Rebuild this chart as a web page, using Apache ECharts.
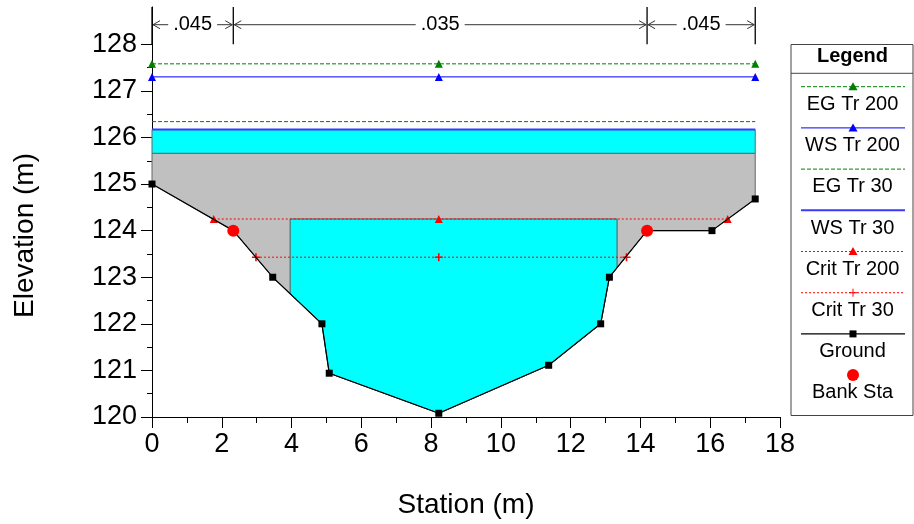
<!DOCTYPE html>
<html><head><meta charset="utf-8">
<script src="https://cdn.jsdelivr.net/npm/echarts@6/dist/echarts.min.js"></script>
<style>html,body{margin:0;padding:0;background:#fff}#c{width:914px;height:524px}</style>
</head><body><div id="c"></div>
<script>
// ---- data ----
const groundSta  = [0, 2.33, 3.46, 4.87, 5.08, 8.22, 11.37, 12.86, 13.11, 14.19, 16.05, 17.29];
const groundElev = [125.0, 124.0, 123.0, 122.0, 120.94, 120.08, 121.11, 122.0, 123.0, 124.0, 124.0, 124.68];
const bankSta  = [2.33, 14.19];
const bankElev = [124.0, 124.0];
const egTr200Sta  = [0, 8.22, 17.29];
const egTr200Elev = [127.58, 127.58, 127.58];
const wsTr200Sta  = [0, 8.22, 17.29];
const wsTr200Elev = [127.30, 127.30, 127.30];
const egTr30Sta  = [0, 17.29];
const egTr30Elev = [126.34, 126.34];
const wsTr30Sta  = [0, 17.29];
const wsTr30Elev = [126.17, 126.17];
const critTr200Sta  = [1.77, 8.22, 16.50];
const critTr200Elev = [124.25, 124.25, 124.25];
const critTr30Sta  = [2.98, 8.22, 13.60];
const critTr30Elev = [123.43, 123.43, 123.43];
const deckLowElev = [125.66];          // top of grey blocked area
const openingSta  = [3.96, 13.33];     // culvert opening sides
const openingTopElev = [124.25];
const nValueSta = [0, 2.33, 14.19, 17.29];
const nValues   = ['.045', '.035', '.045'];
const xTickLabels = [0, 2, 4, 6, 8, 10, 12, 14, 16, 18];
const yMajorTicks = [120, 121, 122, 123, 124, 125, 126, 127, 128];
const yMinorTicks = [120.5, 121.5, 122.5, 123.5, 124.5, 125.5, 126.5, 127.5];

const FONT = 'Liberation Sans, Arial, Helvetica, sans-serif';
const zip = (a, b) => a.map((v, i) => [v, b[i]]);
function groundAt(s) {
  for (let i = 0; i < groundSta.length - 1; i++) {
    const s0 = groundSta[i], s1 = groundSta[i + 1];
    if (s >= s0 && s <= s1) return groundElev[i] + (groundElev[i + 1] - groundElev[i]) * (s - s0) / (s1 - s0);
  }
  return groundElev[groundElev.length - 1];
}
const gPts = zip(groundSta, groundElev);
const xEnd = groundSta[groundSta.length - 1];
const grayPoly = [[0, deckLowElev[0]], [xEnd, deckLowElev[0]]].concat(gPts.slice().reverse());
const bandPoly = [[0, wsTr30Elev[0]], [xEnd, wsTr30Elev[0]], [xEnd, deckLowElev[0]], [0, deckLowElev[0]]];
const oL = openingSta[0], oR = openingSta[1];
const openPoly = [[oL, openingTopElev[0]], [oR, openingTopElev[0]], [oR, groundAt(oR)]]
  .concat(gPts.filter(p => p[0] > oL && p[0] < oR).reverse())
  .concat([[oL, groundAt(oL)]]);

const defs = [
  {name: 'EG Tr 200', sta: egTr200Sta, elev: egTr200Elev, color: '#008000', type: [4, 2], width: 1, symbol: 'triangle'},
  {name: 'WS Tr 200', sta: wsTr200Sta, elev: wsTr200Elev, color: '#0000ff', type: 'solid', width: 1, symbol: 'triangle'},
  {name: 'EG Tr 30', sta: egTr30Sta, elev: egTr30Elev, color: '#008000', type: [4, 2], width: 1, symbol: 'none'},
  {name: 'WS Tr 30', sta: wsTr30Sta, elev: wsTr30Elev, color: '#3a3aff', type: 'solid', width: 2, symbol: 'none'},
  {name: 'Crit Tr 200', sta: critTr200Sta, elev: critTr200Elev, color: '#ff0000', type: [2, 2], width: 1, symbol: 'triangle'},
  {name: 'Crit Tr 30', sta: critTr30Sta, elev: critTr30Elev, color: '#ff0000', type: [2, 2], width: 1, symbol: 'plus'},
  {name: 'Ground', sta: groundSta, elev: groundElev, color: '#000000', type: 'solid', width: 1.2, symbol: 'square'},
  {name: 'Bank Sta', sta: bankSta, elev: bankElev, color: '#ff0000', type: 'none', width: 0, symbol: 'circle'}
];
const PLUS = 'path://M4,0h2v4h4v2h-4v4h-2v-4h-4v-2h4z';
function symOf(s) { return s === 'square' ? 'rect' : s === 'plus' ? PLUS : s; }
function symSize(s) { return s === 'circle' ? 12 : s === 'square' ? 7 : s === 'plus' ? 8 : 8; }

const series = [];
series.push({
  type: 'custom', silent: true, z: 1, data: [0],
  renderItem: (params, api) => {
    const c = p => api.coord(p);
    return {type: 'group', children: [
      {type: 'polygon', shape: {points: grayPoly.map(c)}, style: {fill: '#c0c0c0', stroke: '#666666', lineWidth: 1}},
      {type: 'polygon', shape: {points: bandPoly.map(c)}, style: {fill: '#00ffff', stroke: '#666666', lineWidth: 1}},
      {type: 'polygon', shape: {points: openPoly.map(c)}, style: {fill: '#00ffff', stroke: '#555555', lineWidth: 1}}
    ]};
  }
});
// n-value annotation
series.push({
  type: 'custom', silent: true, z: 5, clip: false, data: [0],
  renderItem: (params, api) => {
    const ch = [];
    const yA = api.coord([0, 128.42])[1];
    const yTop = api.coord([0, 128.8])[1];
    const yBot = api.coord([0, 128.0])[1];
    nValueSta.forEach(s => {
      const x = api.coord([s, 128])[0];
      ch.push({type: 'line', shape: {x1: x, y1: yTop, x2: x, y2: yBot}, style: {stroke: '#000', lineWidth: 1.3}});
    });
    for (let i = 0; i < nValues.length; i++) {
      const x1 = api.coord([nValueSta[i], 128])[0] + 1, x2 = api.coord([nValueSta[i + 1], 128])[0] - 1;
      ch.push({type: 'line', shape: {x1: x1, y1: yA, x2: x2, y2: yA}, style: {stroke: '#333', lineWidth: 1}});
      ch.push({type: 'polyline', shape: {points: [[x1 + 7, yA - 4], [x1, yA], [x1 + 7, yA + 4]]}, style: {stroke: '#333', lineWidth: 1, fill: null}});
      ch.push({type: 'polyline', shape: {points: [[x2 - 7, yA - 4], [x2, yA], [x2 - 7, yA + 4]]}, style: {stroke: '#333', lineWidth: 1, fill: null}});
      ch.push({type: 'text', x: (x1 + x2) / 2, y: yA, style: {text: nValues[i], fontSize: 20, fontFamily: FONT, fill: '#000',
        align: 'center', verticalAlign: 'middle', backgroundColor: '#fff', padding: [0, 5]}});
    }
    return {type: 'group', children: ch};
  }
});
defs.forEach((d, i) => {
  series.push({
    type: 'line', name: d.name, data: zip(d.sta, d.elev), z: 10 + i,
    symbol: symOf(d.symbol), symbolSize: symSize(d.symbol), showSymbol: d.symbol !== 'none',
    lineStyle: d.type === 'none' ? {width: 0, opacity: 0} : {color: d.color, type: d.type, width: d.width},
    itemStyle: {color: d.color, borderWidth: 0},
    animation: false, silent: true, clip: false
  });
});

// legend graphics
const LX = 791, LW = 122, LT = 44.5, LB = 415.5, LC = 852.5;
const g = [
  {type: 'rect', shape: {x: LX, y: LT, width: LW, height: LB - LT}, style: {fill: '#fff', stroke: '#444', lineWidth: 1}, z: 50},
  {type: 'line', shape: {x1: LX, y1: 73.3, x2: LX + LW, y2: 73.3}, style: {stroke: '#444', lineWidth: 1}, z: 51},
  {type: 'text', x: LC, y: 56.7, style: {text: 'Legend', fontSize: 20, fontWeight: 'bold', fontFamily: FONT, fill: '#000', align: 'center', verticalAlign: 'middle'}, z: 51},
  {type: 'text', x: 25, y: 235.5, rotation: Math.PI / 2, style: {text: 'Elevation (m)', fontSize: 28, fontFamily: FONT, fill: '#000', align: 'center', verticalAlign: 'middle'}},
  {type: 'text', x: 466, y: 505, style: {text: 'Station (m)', fontSize: 28, fontFamily: FONT, fill: '#000', align: 'center', verticalAlign: 'middle'}}
];
defs.forEach((d, i) => {
  const ly = 86.7 + i * 41.2, ty = ly + 17.8;
  if (d.type !== 'none') {
    g.push({type: 'line', shape: {x1: 801, y1: ly, x2: 905, y2: ly},
      style: {stroke: d.color, lineWidth: d.width, lineDash: Array.isArray(d.type) ? d.type : null}, z: 51});
  }
  const c = {x: 853, y: ly};
  if (d.symbol === 'triangle') g.push({type: 'polygon', shape: {points: [[c.x, c.y - 4.5], [c.x + 4.5, c.y + 3.5], [c.x - 4.5, c.y + 3.5]]}, style: {fill: d.color}, z: 52});
  if (d.symbol === 'square') g.push({type: 'rect', shape: {x: c.x - 3.5, y: c.y - 3.5, width: 7, height: 7}, style: {fill: d.color}, z: 52});
  if (d.symbol === 'plus') {
    g.push({type: 'line', shape: {x1: c.x - 4, y1: c.y, x2: c.x + 4, y2: c.y}, style: {stroke: d.color, lineWidth: 1}, z: 52});
    g.push({type: 'line', shape: {x1: c.x, y1: c.y - 4, x2: c.x, y2: c.y + 4}, style: {stroke: d.color, lineWidth: 1}, z: 52});
  }
  if (d.symbol === 'circle') g.push({type: 'circle', shape: {cx: c.x, cy: c.y, r: 6}, style: {fill: d.color}, z: 52});
  g.push({type: 'text', x: LC, y: ty, style: {text: d.name, fontSize: 20, fontFamily: FONT, fill: '#000', align: 'center', verticalAlign: 'middle'}, z: 52});
});

const chart = echarts.init(document.getElementById('c'), null, {renderer: 'canvas'});
chart.setOption({
  animation: false,
  backgroundColor: '#fff',
  textStyle: {fontFamily: FONT},
  grid: {left: 152, right: 134, top: 7, bottom: 107, containLabel: false},
  xAxis: {
    type: 'value', min: 0, max: 18, interval: 2,
    axisLine: {show: true, onZero: false, lineStyle: {color: '#000', width: 1}},
    axisTick: {show: true, length: 11, lineStyle: {color: '#000'}},
    minorTick: {show: true, splitNumber: 2, length: 6, lineStyle: {color: '#000'}},
    axisLabel: {fontSize: 27, color: '#000', margin: 14, fontFamily: FONT, customValues: xTickLabels},
    splitLine: {show: false}
  },
  yAxis: [{
    type: 'value', min: 120, max: 128.8, position: 'left',
    axisLine: {show: true, onZero: false, lineStyle: {color: '#000', width: 1}},
    axisTick: {show: true, length: 11, lineStyle: {color: '#000'}, customValues: yMajorTicks},
    axisLabel: {fontSize: 27, color: '#000', margin: 15, fontFamily: FONT, customValues: yMajorTicks},
    splitLine: {show: false}
  }, {
    type: 'value', min: 120, max: 128.8, position: 'left', offset: 0,
    axisLine: {show: false},
    axisTick: {show: true, length: 5, lineStyle: {color: '#000'}, customValues: yMinorTicks},
    axisLabel: {show: false},
    splitLine: {show: false}
  }],
  series: series,
  graphic: g
});
</script>
</body></html>
